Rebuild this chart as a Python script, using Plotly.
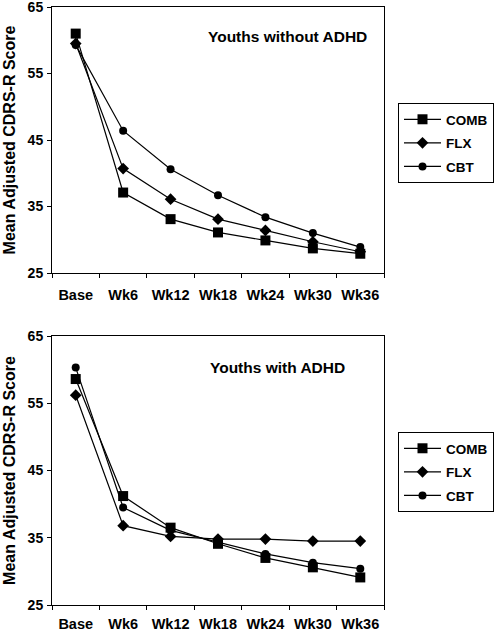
import plotly.graph_objects as go

weeks = ["Base", "Wk6", "Wk12", "Wk18", "Wk24", "Wk30", "Wk36"]
y_ticks = [25, 35, 45, 55, 65]

# Youths without ADHD
no_adhd_comb = [61.0, 37.1, 33.1, 31.1, 29.9, 28.7, 27.9]
no_adhd_flx = [59.5, 40.7, 36.1, 33.1, 31.4, 29.7, 28.2]
no_adhd_cbt = [59.3, 46.4, 40.6, 36.7, 33.4, 31.0, 28.9]

# Youths with ADHD
adhd_comb = [58.6, 41.2, 36.5, 34.1, 32.0, 30.6, 29.1]
adhd_flx = [56.2, 36.8, 35.2, 34.8, 34.8, 34.5, 34.5]
adhd_cbt = [60.3, 39.5, 36.1, 34.3, 32.6, 31.3, 30.4]

series_names = ["COMB", "FLX", "CBT"]
symbols = ["square", "diamond", "circle"]
sizes = [10, 9, 8]

FONT = "Arial, Liberation Sans, sans-serif"
W, H = 496, 632

fig = go.Figure()

panels = [
    ([no_adhd_comb, no_adhd_flx, no_adhd_cbt], "x", "y", "legend"),
    ([adhd_comb, adhd_flx, adhd_cbt], "x2", "y2", "legend2"),
]
for data, xa, ya, leg in panels:
    for name, vals, sym, sz in zip(series_names, data, symbols, sizes):
        fig.add_trace(go.Scatter(
            x=weeks, y=vals, name=name, mode="lines+markers",
            line=dict(color="black", width=1.2),
            marker=dict(symbol=sym, size=sz, color="black"),
            xaxis=xa, yaxis=ya, legend=leg, legendgroup=leg + name,
        ))

def px_x(p):
    return p / W

def px_y(p):
    return 1 - p / H

axis_common_x = dict(
    type="category", showline=True, linecolor="black", linewidth=1,
    mirror=True, ticks="outside", ticklen=4, tickcolor="black",
    tickson="boundaries", showgrid=False, zeroline=False, automargin=False,
    tickfont=dict(family=FONT, size=14.5, color="black", weight="bold"),
    ticklabeloverflow="allow", range=[-0.5, 6.5],
)
axis_common_y = dict(
    range=[25, 65], tickvals=y_ticks, showline=True, linecolor="black",
    linewidth=1, mirror=True, ticks="outside", ticklen=4, tickcolor="black",
    showgrid=False, zeroline=False, automargin=False,
    tickfont=dict(family=FONT, size=14, color="black", weight="bold"),
    ticklabelstandoff=1, ticklabeloverflow="allow",
    title=dict(text="Mean Adjusted CDRS-R Score",
               font=dict(family=FONT, size=16, color="black", weight="bold"),
               standoff=8),
)

legend_common = dict(
    xanchor="left", yanchor="top", bordercolor="black", borderwidth=1,
    bgcolor="white", tracegroupgap=3, itemwidth=37,
    font=dict(family=FONT, size=13.5, color="black", weight="bold"),
)

fig.update_layout(
    width=W, height=H,
    margin=dict(l=0, r=0, t=0, b=0, autoexpand=False),
    paper_bgcolor="white", plot_bgcolor="white",
    xaxis=dict(domain=[px_x(52), px_x(384)], anchor="y",
               ticklabelstandoff=9, **axis_common_x),
    yaxis=dict(domain=[px_y(273), px_y(7)], anchor="x", **axis_common_y),
    xaxis2=dict(domain=[px_x(52), px_x(384)], anchor="y2",
                ticklabelstandoff=6, **axis_common_x),
    yaxis2=dict(domain=[px_y(605), px_y(336)], anchor="x2", **axis_common_y),
    legend=dict(x=px_x(398), y=px_y(103), **legend_common),
    legend2=dict(x=px_x(398), y=px_y(432), **legend_common),
    modebar=dict(bgcolor="rgba(0,0,0,0)", color="rgba(0,0,0,0)",
                 activecolor="rgba(0,0,0,0)"),
    annotations=[
        dict(text="Youths without ADHD", x=px_x(287), y=px_y(37),
             xref="paper", yref="paper", showarrow=False,
             xanchor="center", yanchor="middle",
             font=dict(family=FONT, size=15.5, color="black", weight="bold")),
        dict(text="Youths with ADHD", x=px_x(277), y=px_y(367),
             xref="paper", yref="paper", showarrow=False,
             xanchor="center", yanchor="middle",
             font=dict(family=FONT, size=15.5, color="black", weight="bold")),
    ],
)

fig.write_html("out.html", config={"displayModeBar": False},
               post_script="document.body.style.margin='0';")
